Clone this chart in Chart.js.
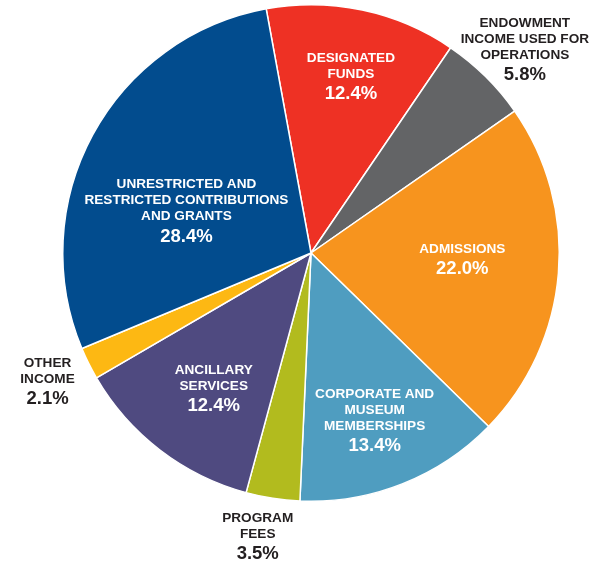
<!DOCTYPE html>
<html>
<head>
<meta charset="utf-8">
<script src="https://cdn.jsdelivr.net/npm/chart.js@4.4.1/dist/chart.umd.min.js"></script>
<style>
  html, body { margin: 0; padding: 0; background: #fff; }
  #wrap { width: 592px; height: 568px; }
</style>
</head>
<body>
<div id="wrap"><canvas id="revenue" width="592" height="568"></canvas></div>
<script>
// Revenue sources, clockwise from the top
var categories = [
  ['DESIGNATED', 'FUNDS'],
  ['ENDOWMENT', 'INCOME USED FOR', 'OPERATIONS'],
  ['ADMISSIONS'],
  ['CORPORATE AND', 'MUSEUM', 'MEMBERSHIPS'],
  ['PROGRAM', 'FEES'],
  ['ANCILLARY', 'SERVICES'],
  ['OTHER', 'INCOME'],
  ['UNRESTRICTED AND', 'RESTRICTED CONTRIBUTIONS', 'AND GRANTS']
];
var shares = [12.4, 5.8, 22.0, 13.4, 3.5, 12.4, 2.1, 28.4];

var colors = ['#ee3124', '#636466', '#f7941e', '#4f9dc0', '#b2bb1e', '#4f4a80', '#fdb813', '#024c8e'];

// where each label sits: fraction of the radius, angle tweak in degrees, inside or not
var labelPlace = [
  { r: 0.73, da: 0.8, inside: true },
  { r: 1.19, da: 1.7, inside: false },
  { r: 0.61, da: -2.4, inside: true },
  { r: 0.72, da: 0.7, inside: true },
  { r: 1.16, da: 1.8, inside: false },
  { r: 0.67, da: -1.7, inside: true },
  { r: 1.18, da: 0.5, inside: false },
  { r: 0.53, da: -9.7, inside: true }
];

var sliceLabels = {
  id: 'sliceLabels',
  afterDatasetsDraw: function(chart) {
    var ctx = chart.ctx;
    var meta = chart.getDatasetMeta(0);
    ctx.save();
    ctx.textAlign = 'center';
    ctx.textBaseline = 'middle';
    meta.data.forEach(function(arc, i) {
      var p = labelPlace[i];
      var mid = (arc.startAngle + arc.endAngle) / 2 + p.da * Math.PI / 180;
      var dist = arc.outerRadius * p.r;
      var cx = arc.x + Math.cos(mid) * dist;
      var cy = arc.y + Math.sin(mid) * dist;
      var lines = categories[i];
      var blockH = (lines.length - 1) * 16 + 20;
      var y = cy - blockH / 2;
      ctx.fillStyle = p.inside ? '#ffffff' : '#231f20';
      ctx.font = 'bold 13.6px "Liberation Sans", Arial, sans-serif';
      lines.forEach(function(line, k) {
        ctx.fillText(line, cx, y + k * 16);
      });
      ctx.font = 'bold 18.5px "Liberation Sans", Arial, sans-serif';
      ctx.fillText(shares[i].toFixed(1) + '%', cx, y + blockH);
    });
    ctx.restore();
  }
};

new Chart(document.getElementById('revenue'), {
  type: 'pie',
  data: {
    labels: categories.map(function(l) { return l.join(' '); }),
    datasets: [{
      data: shares,
      backgroundColor: colors,
      borderColor: '#ffffff',
      borderWidth: 1.5
    }]
  },
  options: {
    responsive: false,
    animation: false,
    rotation: -10.4,
    layout: { padding: { left: 62, right: 32, top: 4, bottom: 66 } },
    plugins: {
      legend: { display: false },
      tooltip: { enabled: false }
    }
  },
  plugins: [sliceLabels]
});
</script>
</body>
</html>
